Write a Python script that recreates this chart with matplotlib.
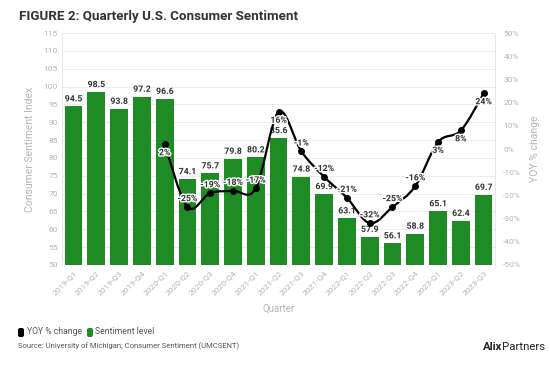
import numpy as np
import matplotlib
matplotlib.use("Agg")
import matplotlib.pyplot as plt
import matplotlib.patheffects as pe
from matplotlib.path import Path
from matplotlib.patches import PathPatch, FancyBboxPatch
from matplotlib.transforms import IdentityTransform

plt.rcParams['font.family'] = ['Roboto', 'DejaVu Sans']

quarters = ['2019-Q1', '2019-Q2', '2019-Q3', '2019-Q4', '2020-Q1', '2020-Q2', '2020-Q3',
            '2020-Q4', '2021-Q1', '2021-Q2', '2021-Q3', '2021-Q4', '2022-Q1', '2022-Q2',
            '2022-Q3', '2022-Q4', '2023-Q1', '2023-Q2', '2023-Q3']
sentiment = [94.5, 98.5, 93.8, 97.2, 96.6, 74.1, 75.7, 79.8, 80.2, 85.6, 74.8, 69.9,
             63.1, 57.9, 56.1, 58.8, 65.1, 62.4, 69.7]
yoy = [np.nan, np.nan, np.nan, np.nan, 2, -25, -19, -18, -17, 16, -1, -12,
       -21, -32, -25, -16, 3, 8, 24]

GREEN = '#1f8b24'
GRAY = '#b5b5b5'
W, H = 550, 368

fig = plt.figure(figsize=(5.5, 3.68), dpi=100)
ax = fig.add_axes([0.113, 0.28, 0.787, 0.63])
x = np.arange(len(quarters))

ax.bar(x, sentiment, width=0.78, color=GREEN, zorder=2)
for xi, v in zip(x, sentiment):
    ax.text(xi, v + 0.8, f'{v:.1f}', ha='center', va='bottom', fontsize=6.3,
            fontweight='bold', color='#333333', zorder=5,
            path_effects=[pe.withStroke(linewidth=1.5, foreground='white')])

ax.set_xlim(-0.5, len(quarters) - 0.5)
ax.set_ylim(50, 115)
ax.set_yticks(np.arange(50, 116, 5))
ax.grid(axis='y', color='#ececec', linewidth=0.7, zorder=0)
ax.set_axisbelow(True)
ax.set_xticks(x)
ax.set_xticklabels(quarters, rotation=45, ha='right', rotation_mode='anchor')
ax.tick_params(axis='both', labelsize=6, labelcolor=GRAY, length=0, pad=3)
for s in ['top', 'right', 'bottom']:
    ax.spines[s].set_visible(False)
ax.spines['left'].set_color('#e6e6e6')
ax.spines['left'].set_linewidth(0.7)
ax.set_ylabel('Consumer Sentiment Index', fontsize=7.5, color=GRAY, labelpad=6)
ax.set_xlabel('Quarter', fontsize=7, color=GRAY, labelpad=6)

ax2 = ax.twinx()
ax2.set_ylim(-50, 50)
ax2.set_yticks(np.arange(-50, 51, 10))
ax2.set_yticklabels([f'{t}%' for t in range(-50, 51, 10)])
ax2.tick_params(axis='y', labelsize=6, labelcolor=GRAY, length=0, pad=6)
for s in ['top', 'left', 'bottom']:
    ax2.spines[s].set_visible(False)
ax2.spines['right'].set_color('#e6e6e6')
ax2.spines['right'].set_linewidth(0.7)
ax2.set_ylabel('YOY % change', fontsize=7.5, color=GRAY, labelpad=6)

# smooth line through the YOY points (Catmull-Rom as cubic Bezier)
yv = np.array(yoy, dtype=float)
ok = ~np.isnan(yv)
px, py = x[ok].astype(float), yv[ok]
verts = [(px[0], py[0])]
codes = [Path.MOVETO]
n = len(px)
for i in range(n - 1):
    p0 = (px[max(i - 1, 0)], py[max(i - 1, 0)])
    p1 = (px[i], py[i])
    p2 = (px[i + 1], py[i + 1])
    p3 = (px[min(i + 2, n - 1)], py[min(i + 2, n - 1)])
    c1 = (p1[0] + (p2[0] - p0[0]) / 6, p1[1] + (p2[1] - p0[1]) / 6)
    c2 = (p2[0] - (p3[0] - p1[0]) / 6, p2[1] - (p3[1] - p1[1]) / 6)
    verts += [c1, c2, p2]
    codes += [Path.CURVE4] * 3
ax2.add_patch(PathPatch(Path(verts, codes), fill=False, edgecolor='black',
                        linewidth=1.6, zorder=3))
ax2.plot(px, py, 'o', color='black', markersize=4, zorder=4)
for xi, v in zip(px, py):
    off = -6 if v >= 0 else 6
    ax2.annotate(f'{v:.0f}%', (xi, v), xytext=(0, off), textcoords='offset points',
                 ha='center', va='center', fontsize=6.3,
                 fontweight='bold', color='#333333', zorder=6,
                 path_effects=[pe.withStroke(linewidth=2, foreground='white')])

# title
fig.text(0.034, 0.955, 'FIGURE 2: Quarterly U.S. Consumer Sentiment', fontsize=9.6,
         fontweight='bold', color='#333333', va='center')

# legend (pixel coords, bottom-left origin)
for x0, col in [(18, 'black'), (87, GREEN)]:
    fig.patches.append(FancyBboxPatch((x0, H - 337), 6, 9,
                                      boxstyle='round,pad=0,rounding_size=2',
                                      facecolor=col, edgecolor='none',
                                      transform=IdentityTransform()))
fig.text(27 / W, 1 - 332 / H, 'YOY % change', fontsize=6.2, color='#555555', va='center')
fig.text(95 / W, 1 - 332 / H, 'Sentiment level', fontsize=6.2, color='#555555', va='center')
fig.text(18 / W, 1 - 346 / H, 'Source: University of Michigan; Consumer Sentiment (UMCSENT)',
         fontsize=5.5, color='#555555', va='center')

# logo text
t1 = fig.text(483 / W, 1 - 347 / H, 'Alix', fontsize=8.2, fontweight='bold', color='#222222',
              va='center', ha='left')
fig.canvas.draw()
bb = t1.get_window_extent()
fig.text(bb.x1 / fig.bbox.width, 1 - 347 / H, 'Partners', fontsize=8.2, color='#222222',
         va='center', ha='left')

fig.savefig('out.png', dpi=100)
